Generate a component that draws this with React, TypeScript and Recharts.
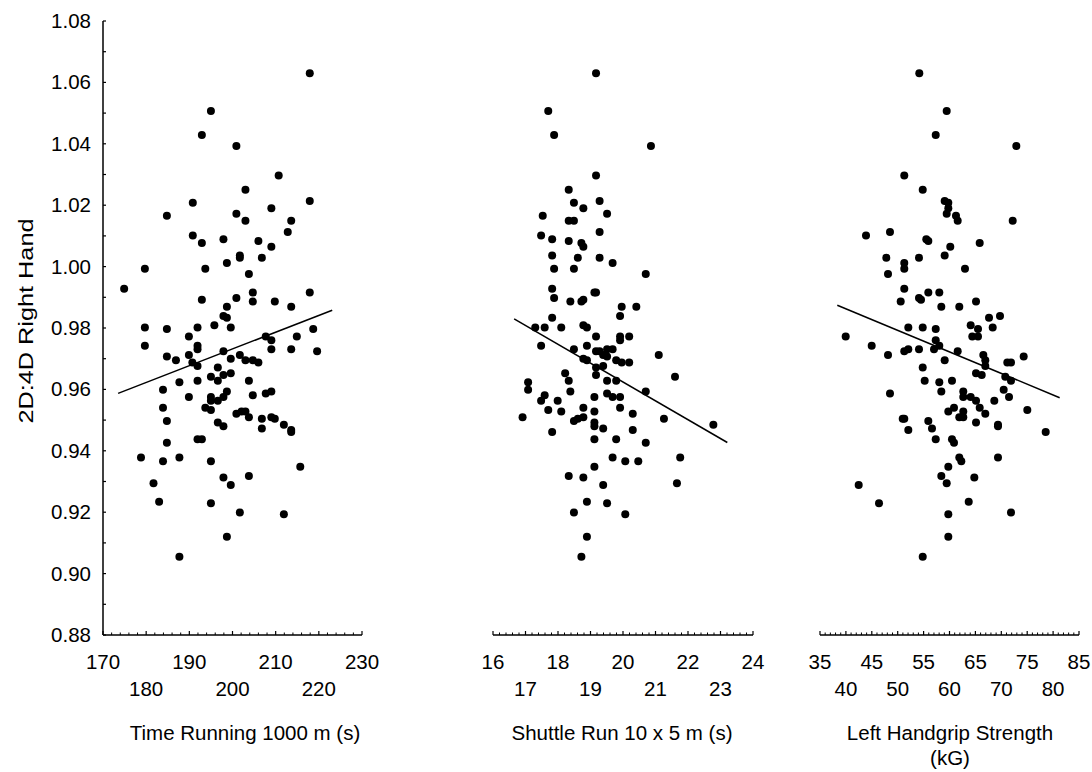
import React from 'react'
import { ScatterChart, Scatter, XAxis, YAxis, ReferenceLine, Label } from 'recharts'

const FONT = '"Liberation Sans", Arial, sans-serif'

// 2D:4D ratio vs time for the 1000 m run (s)
const runningPoints: [number, number][] = [
  [217.9, 1.063], [195.0, 1.0507], [192.9, 1.0429], [200.9, 1.0393], [210.7, 1.0297], [203.0, 1.025],
  [190.8, 1.0208], [217.9, 1.0214], [184.8, 1.0166], [200.9, 1.0172], [203.0, 1.0149], [209.0, 1.019],
  [213.6, 1.0149], [212.8, 1.0113], [190.8, 1.0101], [192.9, 1.0077], [197.9, 1.0089], [206.0, 1.0083],
  [209.0, 1.0065], [201.7, 1.0036], [201.7, 1.0029], [206.8, 1.0029], [198.7, 1.0012], [179.7, 0.9993],
  [193.7, 0.9993], [203.8, 0.9976], [174.9, 0.9928], [192.9, 0.9892], [200.9, 0.9898], [204.7, 0.9916],
  [204.7, 0.9886], [209.8, 0.9886], [217.9, 0.9916], [198.7, 0.9869], [213.6, 0.9869], [197.9, 0.9839],
  [198.7, 0.9833], [179.7, 0.9802], [184.8, 0.9797], [191.9, 0.9802], [195.8, 0.9809], [199.6, 0.9802],
  [218.7, 0.9797], [189.9, 0.9772], [207.7, 0.9772], [209.0, 0.976], [214.9, 0.9772], [179.7, 0.9742],
  [191.9, 0.9742], [191.9, 0.9731], [209.0, 0.9731], [213.6, 0.9731], [219.6, 0.9724], [197.9, 0.9724],
  [189.9, 0.9712], [184.8, 0.9707], [186.9, 0.9695], [201.7, 0.9712], [199.6, 0.97], [203.0, 0.9695],
  [204.7, 0.9695], [206.0, 0.9688], [190.7, 0.9688], [191.9, 0.9676], [196.6, 0.9671], [195.0, 0.9641],
  [197.9, 0.9647], [199.6, 0.9653], [196.6, 0.9628], [191.9, 0.9628], [187.7, 0.9623], [203.8, 0.9628],
  [183.9, 0.9599], [198.7, 0.9593], [207.7, 0.9587], [209.0, 0.9593], [204.7, 0.9581], [189.9, 0.9575],
  [195.0, 0.9575], [195.0, 0.9563], [197.9, 0.9575], [196.6, 0.9563], [193.7, 0.954], [195.0, 0.9533],
  [183.9, 0.954], [200.9, 0.9521], [202.1, 0.9528], [203.0, 0.9528], [203.8, 0.9509], [206.8, 0.9504],
  [209.0, 0.9509], [209.8, 0.9504], [184.8, 0.9497], [196.6, 0.9492], [197.9, 0.948], [206.8, 0.9473],
  [211.9, 0.9485], [213.6, 0.9468], [213.6, 0.9461], [191.9, 0.9438], [192.9, 0.9438], [184.8, 0.9426],
  [178.8, 0.9378], [183.9, 0.9366], [187.7, 0.9378], [195.0, 0.9366], [215.7, 0.9348], [181.7, 0.9294],
  [197.9, 0.9313], [199.6, 0.9289], [203.8, 0.9318], [183.0, 0.9234], [195.0, 0.9229], [201.7, 0.9199],
  [211.9, 0.9193], [198.7, 0.912], [187.7, 0.9055],
]

// 2D:4D ratio vs shuttle run 10 x 5 m (s)
const shuttlePoints: [number, number][] = [
  [19.17, 1.063], [17.7, 1.0507], [17.88, 1.0429], [20.86, 1.0393], [19.17, 1.0297], [18.33, 1.025],
  [18.49, 1.0208], [18.78, 1.019], [19.28, 1.0214], [17.53, 1.0166], [18.33, 1.0149], [18.49, 1.0149],
  [19.51, 1.0172], [19.28, 1.0113], [17.48, 1.0101], [17.82, 1.0089], [18.33, 1.0083], [18.72, 1.0077],
  [18.78, 1.0065], [17.82, 1.0036], [18.61, 1.0029], [19.28, 1.0029], [19.68, 1.0012], [17.88, 0.9993],
  [18.49, 0.9993], [20.7, 0.9976], [17.82, 0.9928], [17.88, 0.9898], [19.12, 0.9916], [19.17, 0.9916],
  [18.38, 0.9886], [18.72, 0.9886], [18.78, 0.9892], [19.96, 0.9869], [20.41, 0.9869], [19.91, 0.9839],
  [17.82, 0.9833], [17.3, 0.9802], [17.59, 0.9802], [18.1, 0.9802], [18.78, 0.9809], [18.89, 0.9802],
  [19.17, 0.9772], [19.91, 0.9772], [19.91, 0.976], [20.19, 0.9772], [17.48, 0.9742], [18.89, 0.9742],
  [18.49, 0.9731], [19.17, 0.9724], [19.28, 0.9724], [19.51, 0.9731], [19.68, 0.9731], [19.39, 0.9712],
  [19.51, 0.9707], [21.1, 0.9712], [18.78, 0.97], [18.89, 0.9695], [19.79, 0.9695], [19.96, 0.9688],
  [20.19, 0.9688], [19.17, 0.9671], [19.39, 0.9676], [18.22, 0.9653], [19.17, 0.9647], [21.6, 0.9641],
  [18.33, 0.9628], [19.51, 0.9628], [19.79, 0.9628], [17.08, 0.9623], [17.08, 0.9599], [18.38, 0.9593],
  [19.51, 0.9587], [20.7, 0.9593], [17.59, 0.9581], [19.12, 0.9575], [19.68, 0.9575], [19.91, 0.9575],
  [17.48, 0.9563], [17.99, 0.9563], [17.7, 0.9533], [18.1, 0.9528], [18.78, 0.954], [19.12, 0.9528],
  [19.91, 0.954], [20.3, 0.9521], [16.91, 0.9509], [18.49, 0.9497], [18.61, 0.9504], [18.78, 0.9509],
  [19.12, 0.9492], [19.12, 0.948], [19.39, 0.9473], [20.3, 0.9468], [21.26, 0.9504], [22.78, 0.9485],
  [17.82, 0.9461], [19.12, 0.9438], [19.79, 0.9438], [20.7, 0.9426], [19.68, 0.9378], [20.07, 0.9366],
  [20.47, 0.9366], [21.76, 0.9378], [19.12, 0.9348], [18.33, 0.9318], [18.78, 0.9313], [19.39, 0.9289],
  [21.66, 0.9294], [18.89, 0.9234], [19.51, 0.9229], [18.49, 0.9199], [20.07, 0.9193], [18.89, 0.912],
  [18.72, 0.9055],
]

// 2D:4D ratio vs left handgrip strength (kG)
const gripPoints: [number, number][] = [
  [54.17, 1.063], [59.46, 1.0507], [57.34, 1.0429], [72.9, 1.0393], [51.27, 1.0297], [54.83, 1.025],
  [59.07, 1.0214], [59.77, 1.0208], [59.77, 1.019], [59.46, 1.0172], [61.25, 1.0166], [61.58, 1.0149],
  [72.2, 1.0149], [43.88, 1.0101], [48.51, 1.0113], [55.52, 1.0089], [55.91, 1.0083], [60.15, 1.0065],
  [65.83, 1.0077], [47.8, 1.0029], [54.11, 1.0029], [59.07, 1.0036], [51.27, 1.0012], [51.27, 0.9993],
  [48.13, 0.9976], [62.99, 0.9993], [51.27, 0.9928], [50.58, 0.9886], [54.11, 0.9898], [54.5, 0.9892],
  [55.91, 0.9916], [58.03, 0.9916], [65.12, 0.9886], [58.42, 0.9869], [61.89, 0.9869], [67.63, 0.9833],
  [69.75, 0.9839], [52.05, 0.9802], [54.83, 0.9802], [57.34, 0.9797], [64.09, 0.9809], [65.5, 0.9797],
  [68.34, 0.9802], [39.96, 0.9772], [44.98, 0.9742], [48.13, 0.9712], [51.27, 0.9724], [52.05, 0.9731],
  [54.11, 0.9731], [57.01, 0.9731], [57.34, 0.976], [58.03, 0.9742], [61.58, 0.9724], [64.4, 0.9772],
  [65.5, 0.9772], [59.07, 0.9695], [66.53, 0.9712], [66.91, 0.9695], [66.91, 0.9676], [71.16, 0.9688],
  [71.87, 0.9688], [74.32, 0.9707], [54.83, 0.9671], [55.21, 0.9628], [58.03, 0.9623], [60.48, 0.9628],
  [65.12, 0.9653], [66.22, 0.9647], [70.77, 0.9641], [71.87, 0.9628], [48.51, 0.9587], [58.42, 0.9593],
  [62.66, 0.9593], [62.66, 0.9575], [64.09, 0.9575], [65.12, 0.9563], [68.65, 0.9563], [70.46, 0.9599],
  [71.49, 0.9575], [59.77, 0.9528], [60.87, 0.954], [62.66, 0.9528], [65.83, 0.954], [66.91, 0.9521],
  [75.02, 0.9533], [50.97, 0.9504], [51.27, 0.9504], [55.91, 0.9497], [61.89, 0.9509], [62.66, 0.9509],
  [65.12, 0.9492], [69.36, 0.9485], [69.36, 0.948], [52.05, 0.9468], [56.62, 0.9473], [78.57, 0.9461],
  [57.34, 0.9438], [60.48, 0.9438], [60.87, 0.9426], [61.89, 0.9378], [62.28, 0.9366], [69.36, 0.9378],
  [59.77, 0.9348], [58.42, 0.9318], [64.79, 0.9313], [59.46, 0.9294], [42.47, 0.9289], [63.71, 0.9234],
  [46.39, 0.9229], [59.77, 0.9193], [71.87, 0.9199], [59.77, 0.912], [54.83, 0.9055],
]

// fitted lines, end points
const runningFit: [number, number][] = [[173.5, 0.9587], [223.1, 0.9858]]
const shuttleFit: [number, number][] = [[16.65, 0.983], [23.21, 0.9427]]
const gripFit: [number, number][] = [[38.34, 0.9874], [81.27, 0.9573]]

const yMajor = [0.88, 0.9, 0.92, 0.94, 0.96, 0.98, 1.0, 1.02, 1.04, 1.06, 1.08]
const runningMajor = [170, 180, 190, 200, 210, 220, 230]
const shuttleMajor = [16, 17, 18, 19, 20, 21, 22, 23, 24]
const gripMajor = [35, 40, 45, 50, 55, 60, 65, 70, 75, 80, 85]

// majors plus evenly spaced minor ticks in between
function withMinor(majors: number[], parts: number) {
  const out: number[] = []
  for (let i = 0; i < majors.length - 1; i++) {
    const step = (majors[i + 1] - majors[i]) / parts
    for (let k = 0; k < parts; k++) out.push(+(majors[i] + k * step).toFixed(4))
  }
  out.push(majors[majors.length - 1])
  return out
}

const isMajor = (majors: number[], v: number) => majors.findIndex((m) => Math.abs(m - v) < 1e-6)

function makeXTick(majors: number[]) {
  return (props: any) => {
    const { x, y, payload } = props
    const idx = isMajor(majors, payload.value)
    if (idx < 0) return <line x1={x} x2={x} y1={y} y2={y - 2.5} stroke="#000" strokeWidth={1} />
    return (
      <g>
        <line x1={x} x2={x} y1={y} y2={y - 4} stroke="#000" strokeWidth={1.2} />
        <text x={x} y={y + (idx % 2 === 0 ? 34 : 61)} textAnchor="middle" fontSize={20.5} fontFamily={FONT} fill="#000">
          {payload.value}
        </text>
      </g>
    )
  }
}

function YTick(props: any) {
  const { x, y, payload } = props
  const idx = isMajor(yMajor, payload.value)
  return (
    <g>
      <line x1={x} x2={x + 3} y1={y} y2={y} stroke="#000" strokeWidth={1.2} />
      {idx >= 0 && (
        <text x={x - 12} y={y + 7} textAnchor="end" fontSize={20.5} fontFamily={FONT} fill="#000">
          {payload.value.toFixed(2)}
        </text>
      )}
    </g>
  )
}

const dot = (p: any) => <circle cx={p.cx} cy={p.cy} r={4} fill="#000" />

interface PanelProps {
  left: number
  width: number
  margin: { top: number; right: number; bottom: number; left: number }
  points: [number, number][]
  fit: [number, number][]
  majors: number[]
  parts: number
  titles: string[]
  titleX: number
  showY?: boolean
}

function Panel({ left, width, margin, points, fit, majors, parts, titles, titleX, showY }: PanelProps) {
  const data = points.map(([x, y]) => ({ x, y }))
  return (
    <div style={{ position: 'absolute', left, top: 0 }}>
      <ScatterChart width={width} height={772} margin={margin}>
        <XAxis
          type="number"
          dataKey="x"
          domain={[majors[0], majors[majors.length - 1]]}
          ticks={withMinor(majors, parts)}
          interval={0}
          tickSize={0}
          tickMargin={0}
          tickLine={false}
          tick={makeXTick(majors)}
          axisLine={{ stroke: '#000', strokeWidth: 1.5 }}
          height={100}
          allowDataOverflow
        >
          <Label
            content={() => (
              <text textAnchor="middle" fontSize={20.5} fontFamily={FONT} fill="#000">
                {titles.map((t, i) => (
                  <tspan key={t} x={titleX - left} y={740 + i * 25}>
                    {t}
                  </tspan>
                ))}
              </text>
            )}
          />
        </XAxis>
        <YAxis
          type="number"
          dataKey="y"
          domain={[0.88, 1.08]}
          ticks={withMinor(yMajor, 2)}
          interval={0}
          hide={!showY}
          width={60}
          tickSize={0}
          tickMargin={0}
          tickLine={false}
          tick={YTick}
          axisLine={{ stroke: '#000', strokeWidth: 1.5 }}
          allowDataOverflow
        >
          {showY && (
            <Label
              content={() => (
                <text
                  x={33}
                  y={321}
                  transform="rotate(-90 33 321)"
                  textAnchor="middle"
                  fontSize={21}
                  fontFamily={FONT}
                  textLength={205}
                  lengthAdjust="spacingAndGlyphs"
                  fill="#000"
                >
                  2D:4D Right Hand
                </text>
              )}
            />
          )}
        </YAxis>
        <ReferenceLine
          segment={[{ x: fit[0][0], y: fit[0][1] }, { x: fit[1][0], y: fit[1][1] }]}
          stroke="#000"
          strokeWidth={1.5}
          ifOverflow="visible"
        />
        <Scatter data={data} shape={dot} isAnimationActive={false} />
      </ScatterChart>
    </div>
  )
}

export default function App() {
  return (
    <div style={{ position: 'absolute', left: 0, top: 0, width: 1092, height: 772, background: '#fff' }}>
      <Panel
        left={0}
        width={380}
        margin={{ top: 21, right: 18, bottom: 37, left: 43 }}
        points={runningPoints}
        fit={runningFit}
        majors={runningMajor}
        parts={5}
        titles={['Time Running 1000 m (s)']}
        titleX={245}
        showY
      />
      <Panel
        left={470}
        width={300}
        margin={{ top: 21, right: 17, bottom: 37, left: 23 }}
        points={shuttlePoints}
        fit={shuttleFit}
        majors={shuttleMajor}
        parts={5}
        titles={['Shuttle Run 10 x 5 m (s)']}
        titleX={622}
      />
      <Panel
        left={800}
        width={292}
        margin={{ top: 21, right: 13, bottom: 37, left: 20 }}
        points={gripPoints}
        fit={gripFit}
        majors={gripMajor}
        parts={5}
        titles={['Left Handgrip Strength', '(kG)']}
        titleX={950}
      />
    </div>
  )
}
